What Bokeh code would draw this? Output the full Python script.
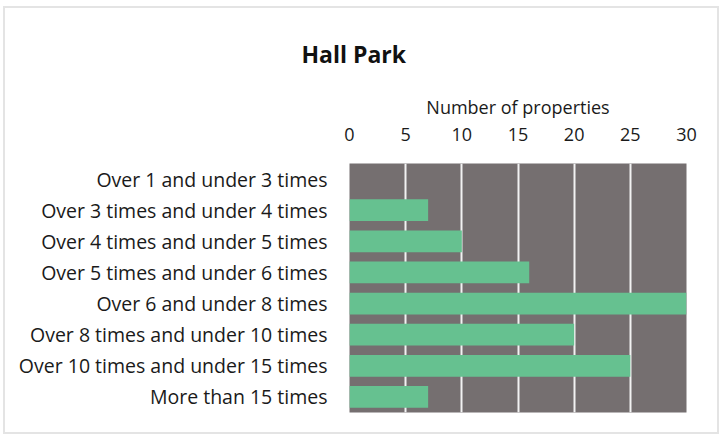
from bokeh.plotting import figure
from bokeh.models import FactorRange, Range1d, FixedTicker, Title
from bokeh.embed import file_html
from bokeh.resources import INLINE

categories = [
    "Over 1 and under 3 times",
    "Over 3 times and under 4 times",
    "Over 4 times and under 5 times",
    "Over 5 times and under 6 times",
    "Over 6 and under 8 times",
    "Over 8 times and under 10 times",
    "Over 10 times and under 15 times",
    "More than 15 times",
]
values = [0, 7, 10, 16, 30, 20, 25, 7]
x_ticks = [0, 5, 10, 15, 20, 25, 30]
title_text = "Hall Park"
x_label = "Number of properties"

FONT = "Open Sans"

p = figure(
    width=716, height=428,
    y_range=FactorRange(*reversed(categories), range_padding=0),
    x_range=Range1d(0, 30),
    x_axis_location="above",
    output_backend="svg", toolbar_location=None,
    min_border_left=344, min_border_right=35, min_border_top=155, min_border_bottom=24,
)
p.margin = (6, 0, 0, 3)
p.styles = {"border": "2px solid #e4e4e4"}
p.title = None
p.background_fill_color = "#756f70"
p.border_fill_color = "white"
p.outline_line_color = None

p.hbar(y=categories, right=values, left=0, height=0.7, color="#66c190", line_color=None)

p.xgrid.ticker = FixedTicker(ticks=x_ticks)
p.xgrid.grid_line_color = "#f2f2f2"
p.xgrid.grid_line_width = 2
p.ygrid.grid_line_color = None

xa = p.xaxis[0]
xa.ticker = FixedTicker(ticks=x_ticks)
xa.axis_line_color = None
xa.major_tick_line_color = None
xa.minor_tick_line_color = None
xa.major_tick_out = 0
xa.major_label_text_font = FONT
xa.major_label_text_font_size = "18px"
xa.major_label_text_color = "#1a1a1a"
xa.major_label_standoff = 23
xa.axis_label = x_label
xa.axis_label_text_font = FONT
xa.axis_label_text_font_style = "normal"
xa.axis_label_text_font_size = "18px"
xa.axis_label_text_color = "#1a1a1a"
xa.axis_label_standoff = 6

ya = p.yaxis[0]
ya.axis_line_color = None
ya.major_tick_line_color = None
ya.minor_tick_line_color = None
ya.major_label_text_font = FONT
ya.major_label_text_font_size = "19.5px"
ya.major_label_text_color = "#1a1a1a"
ya.major_label_standoff = 16

p.add_layout(Title(text=title_text, align="left", offset=-48, standoff=43,
                   text_font=FONT, text_font_size="23px", text_font_style="bold",
                   text_color="#111111"), "above")

open("out.html", "w").write(file_html(p, INLINE))
